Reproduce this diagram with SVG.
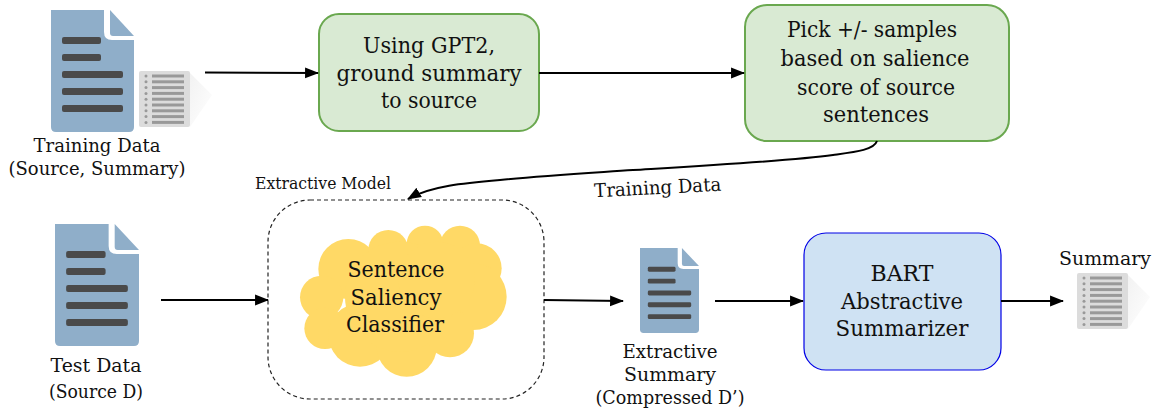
<svg xmlns="http://www.w3.org/2000/svg" xmlns:xlink="http://www.w3.org/1999/xlink" width="1158" height="412" viewBox="0 0 1158 412">
<style>
text{font-family:"DejaVu Serif","Liberation Serif",serif;fill:#111;text-anchor:middle}
.b{font-size:22px}
.s{font-size:19px}
.c{fill:none;stroke:#000;stroke-width:2}
.g{fill:#d9ead3;stroke:#6aa84f;stroke-width:2}
</style>
<defs>
<linearGradient id="sh" x1="0" y1="0" x2="1" y2="1"><stop offset="0" stop-color="#f2f2f2"/><stop offset="1" stop-color="#fff"/></linearGradient>
<marker id="a" markerUnits="userSpaceOnUse" markerWidth="14" markerHeight="12" refX="12" refY="5" orient="auto" viewBox="0 0 13 10"><path d="M0 0L13 5L0 10Z" fill="#000"/></marker>
<symbol id="doc" viewBox="0 0 83 122" preserveAspectRatio="none">
<path d="M0 0H53V22Q53 30 61 30H83V117Q83 122 78 122H5Q0 122 0 117Z" fill="#8faec9"/>
<path d="M59 0L83 26H62Q59 26 59 23Z" fill="#8faec9"/>
<g fill="#4a4a4a"><rect x="11" y="27" width="39" height="7" rx="2"/><rect x="11" y="44" width="39" height="7" rx="2"/><rect x="11" y="61" width="61" height="7" rx="2"/><rect x="11" y="78" width="61" height="7" rx="2"/><rect x="11" y="95" width="61" height="7" rx="2"/></g>
</symbol>
<symbol id="mini" viewBox="0 0 51 56">
<rect width="51" height="56" rx="2" fill="#dcdcdc"/>
<g fill="#999"><rect x="13" y="3.500" width="32" height="3"/><rect x="13" y="9.300" width="32" height="3"/><rect x="13" y="15.100" width="32" height="3"/><rect x="13" y="20.900" width="32" height="3"/><rect x="13" y="26.700" width="32" height="3"/><rect x="13" y="32.500" width="32" height="3"/><rect x="13" y="38.300" width="32" height="3"/><rect x="13" y="44.100" width="32" height="3"/><rect x="13" y="49.900" width="32" height="3"/>
<circle cx="7" cy="5" r="1.500"/><circle cx="7" cy="10.800" r="1.500"/><circle cx="7" cy="16.600" r="1.500"/><circle cx="7" cy="22.400" r="1.500"/><circle cx="7" cy="28.200" r="1.500"/><circle cx="7" cy="34" r="1.500"/><circle cx="7" cy="39.800" r="1.500"/><circle cx="7" cy="45.600" r="1.500"/><circle cx="7" cy="51.400" r="1.500"/></g>
</symbol>
</defs>
<g id="training-data">
<path d="M190 73L212 95L190 127Z" fill="url(#sh)"/>
<use xlink:href="#doc" href="#doc" x="51" y="10" width="83" height="122"/>
<use xlink:href="#mini" href="#mini" x="139" y="71" width="51" height="56"/>
<text class="s" x="97" y="152" textLength="127" lengthAdjust="spacingAndGlyphs">Training Data</text>
<text class="s" x="97" y="175" textLength="177" lengthAdjust="spacingAndGlyphs">(Source, Summary)</text>
</g>
<g id="gpt2">
<rect class="g" x="319" y="14" width="220" height="117" rx="20"/>
<text class="b" x="429" y="53" textLength="132" lengthAdjust="spacingAndGlyphs">Using GPT2,</text>
<text class="b" x="429" y="81" textLength="185" lengthAdjust="spacingAndGlyphs">ground summary</text>
<text class="b" x="429" y="108" textLength="96" lengthAdjust="spacingAndGlyphs">to source</text>
</g>
<g id="pick">
<rect class="g" x="745" y="5" width="264" height="136" rx="22"/>
<text class="b" x="872" y="37" textLength="170" lengthAdjust="spacingAndGlyphs">Pick +/- samples</text>
<text class="b" x="875" y="66" textLength="189" lengthAdjust="spacingAndGlyphs">based on salience</text>
<text class="b" x="876" y="95" textLength="158" lengthAdjust="spacingAndGlyphs">score of source</text>
<text class="b" x="876" y="122" textLength="106" lengthAdjust="spacingAndGlyphs">sentences</text>
</g>
<g id="training-label"><text class="s" x="658" y="194" textLength="127" lengthAdjust="spacingAndGlyphs" transform="rotate(-3 658 194)">Training Data</text></g>
<g id="extractive-model">
<text x="323" y="189" style="font-size:16.500px" textLength="136" lengthAdjust="spacingAndGlyphs">Extractive Model</text>
<rect x="268" y="200" width="276" height="199" rx="42" fill="none" stroke="#222" stroke-width="1.200" stroke-dasharray="4 3"/>
</g>
<g id="classifier">
<g fill="#ffd966" transform="translate(250 170) scale(.33333)">
<circle cx="295" cy="297" r="90"/><circle cx="415" cy="240" r="60"/><circle cx="525" cy="222" r="55"/><circle cx="630" cy="227" r="60"/><circle cx="680" cy="295" r="75"/><circle cx="670" cy="380" r="100"/><circle cx="215" cy="382" r="65"/><circle cx="225" cy="475" r="62"/><circle cx="330" cy="495" r="95"/><circle cx="470" cy="530" r="90"/><circle cx="600" cy="490" r="72"/><circle cx="450" cy="380" r="165"/><circle cx="560" cy="330" r="115"/>
</g>
<text class="b" x="396" y="277" textLength="97" lengthAdjust="spacingAndGlyphs">Sentence</text>
<text class="b" x="396" y="305" textLength="91" lengthAdjust="spacingAndGlyphs">Saliency</text>
<text class="b" x="395" y="332" textLength="98" lengthAdjust="spacingAndGlyphs">Classifier</text>
</g>
<g id="test-data">
<use xlink:href="#doc" href="#doc" x="55" y="224" width="84" height="122"/>
<text class="s" x="96" y="372" textLength="91" lengthAdjust="spacingAndGlyphs">Test  Data</text>
<text class="s" x="96" y="398" textLength="94" lengthAdjust="spacingAndGlyphs">(Source D)</text>
</g>
<g id="extractive-summary">
<use xlink:href="#doc" href="#doc" x="640" y="248" width="59" height="85"/>
<text class="s" x="670" y="358" textLength="95" lengthAdjust="spacingAndGlyphs">Extractive</text>
<text class="s" x="670" y="381" textLength="92" lengthAdjust="spacingAndGlyphs">Summary</text>
<text class="s" x="670" y="404" textLength="149" lengthAdjust="spacingAndGlyphs">(Compressed D’)</text>
</g>
<g id="bart">
<rect x="804" y="233" width="197" height="137" rx="22" fill="#cfe2f3" stroke="#0000e6" stroke-width="1.200"/>
<text class="b" x="902" y="281" textLength="63" lengthAdjust="spacingAndGlyphs">BART</text>
<text class="b" x="902" y="309" textLength="122" lengthAdjust="spacingAndGlyphs">Abstractive</text>
<text class="b" x="902" y="336" textLength="133" lengthAdjust="spacingAndGlyphs">Summarizer</text>
</g>
<g id="summary">
<path d="M1128 275L1150 297L1128 329Z" fill="url(#sh)"/>
<use xlink:href="#mini" href="#mini" x="1077" y="273" width="51" height="56"/>
<text class="s" x="1105" y="265" textLength="92" lengthAdjust="spacingAndGlyphs">Summary</text>
</g>
<g id="connectors">
<path class="c" marker-end="url(#a)" d="M205 72.500L318 73"/>
<path class="c" marker-end="url(#a)" d="M539 73H744"/>
<path class="c" marker-end="url(#a)" d="M877 141C874 150 855 152 833 155C790 161 700 166 633 170C590 173 540 176 500 180C465 183 430 186 408 199"/>
<path class="c" marker-end="url(#a)" d="M161 300H268"/>
<path class="c" marker-end="url(#a)" d="M544 300L623 301"/>
<path class="c" marker-end="url(#a)" d="M715 301H803"/>
<path class="c" marker-end="url(#a)" d="M1001 301H1063"/>
</g>
</svg>
